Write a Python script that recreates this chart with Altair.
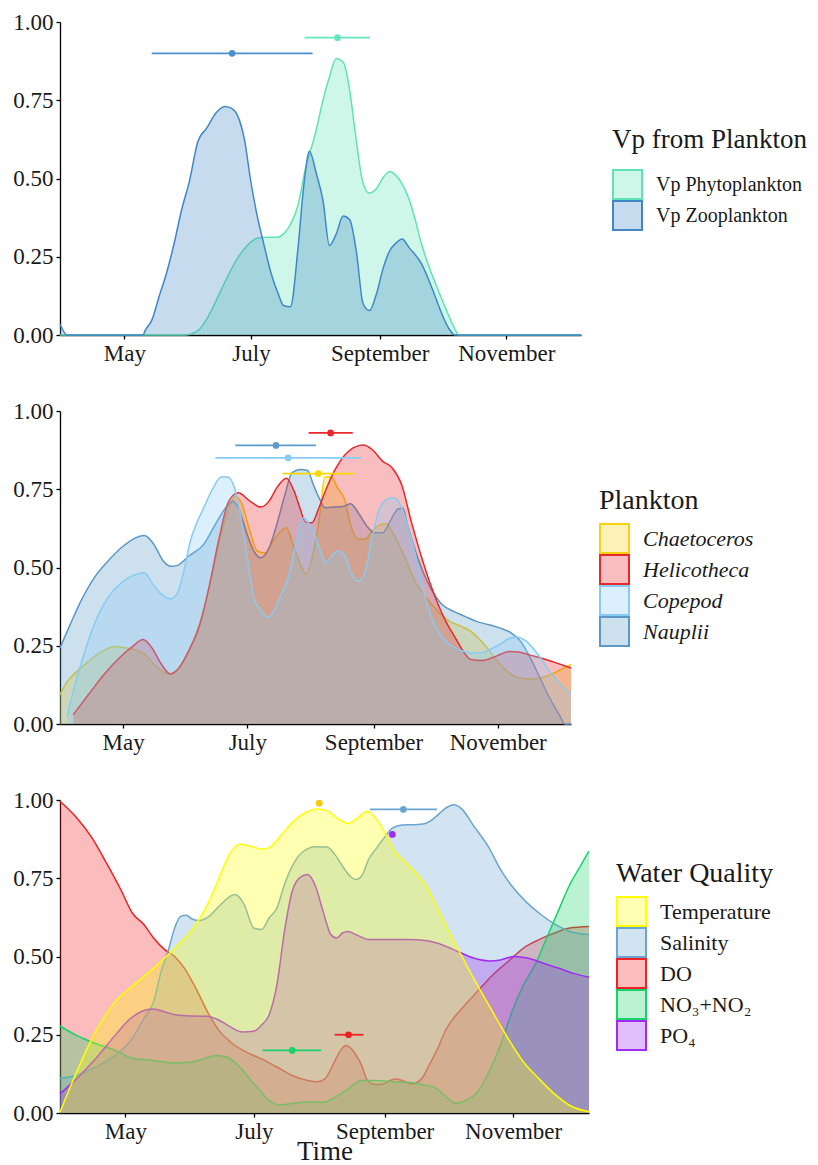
import altair as alt
import pandas as pd

FONT = "Liberation Serif"
BASE = pd.Timestamp("2019-03-31")   # day offsets below are days after 31 March
X_START = alt.DateTime(year=2019, month=3, date=31)
X_END = alt.DateTime(year=2019, month=12, date=7)
MONTH_TICKS = [alt.DateTime(year=2019, month=m, date=1) for m in (5, 7, 9, 11)]
Y_TICKS = [0, 0.25, 0.5, 0.75, 1.0]
FILL_ALPHA = 0.3

# ---------------- Panel 1: Vp from Plankton ----------------
p1_names = ["Vp Phytoplankton", "Vp Zooplankton"]
p1_colors = ["#5fe3b5", "#4187c8"]
p1_draw = ["Vp Phytoplankton", "Vp Zooplankton"]

phyto_day = [0, 60, 66.5, 70.6, 75.2, 79.8, 85.3, 90.8, 95.4, 100, 104.6, 107.7, 111, 114.4, 118.4, 123,
             126.7, 129.8, 133.1, 136.4, 139.6, 142.3, 146, 149.1, 152.4, 155.8, 158.9, 161.8, 164.8,
             168.1, 170.8, 174.2, 177.3, 181, 185.6, 190.2, 192, 251]
phyto_val = [0, 0, 0.014, 0.05, 0.11, 0.174, 0.243, 0.29, 0.31, 0.312, 0.312, 0.323, 0.353, 0.408, 0.536,
             0.643, 0.75, 0.824, 0.883, 0.872, 0.78, 0.643, 0.485, 0.453, 0.467, 0.504, 0.522, 0.51, 0.483,
             0.435, 0.376, 0.29, 0.227, 0.163, 0.088, 0.02, 0, 0]
zoo_day = [0, 3.4, 40, 41, 44.4, 47.6, 51.2, 54.9, 58.6, 62.3, 66.5, 70.6, 75.2, 79.4, 82.5, 85.6, 89, 91.7,
           94.8, 98.2, 101.8, 105.2, 107.7, 111, 114.7, 117.5, 120.2, 123.5, 126.7, 129.8, 133.1, 136.4,
           139.6, 142.9, 146, 149.1, 152.4, 155.8, 158.9, 161.8, 164.8, 168.1, 174.2, 179.1, 184.3, 187.4,
           190.2, 251]
zoo_val = [0.035, 0, 0, 0.014, 0.05, 0.12, 0.195, 0.29, 0.40, 0.49, 0.62, 0.66, 0.71, 0.73, 0.725, 0.70,
           0.62, 0.50, 0.387, 0.29, 0.195, 0.13, 0.094, 0.09, 0.28, 0.48, 0.587, 0.515, 0.43, 0.286, 0.323,
           0.38, 0.368, 0.26, 0.10, 0.078, 0.13, 0.216, 0.27, 0.293, 0.307, 0.28, 0.227, 0.152, 0.062, 0.02,
           0, 0]

p1_err_names = ["Vp Phytoplankton", "Vp Zooplankton"]
p1_err_colors = ["#66e6bb", "#4a8fd0"]
p1_err_mid = [133.7, 82.9]
p1_err_lo = [117.8, 44.2]
p1_err_hi = [149.3, 121.7]
p1_err_y = [0.95, 0.90]

# ---------------- Panel 2: Plankton ----------------
p2_names = ["Chaetoceros", "Helicotheca", "Copepod", "Nauplii"]
p2_colors = ["#f5d10f", "#e8282c", "#87cbf4", "#5b98c6"]
p2_draw = ["Chaetoceros", "Nauplii", "Helicotheca", "Copepod"]

chaet_day = [0, 3.6, 8.4, 14, 20.6, 27.2, 32.9, 41.4, 48, 53.6, 58.4, 63.1, 67.8, 72.5, 77.2, 82, 86.1,
             89.1, 93.3, 97, 100.8, 104.6, 108, 111.2, 114.4, 117.8, 120.8, 123.8, 127.2, 130.1, 133.3,
             136.3, 140.1, 142.7, 146.5, 149.9, 153.3, 157.4, 160.3, 164, 168.7, 174.4, 180, 185.7, 191.4,
             197, 201.8, 208.4, 215, 219.7, 225.4, 232, 238.6, 246.1, 251]
chaet_val = [0.094, 0.136, 0.168, 0.20, 0.232, 0.248, 0.243, 0.224, 0.179, 0.16, 0.179, 0.232, 0.307,
             0.414, 0.552, 0.67, 0.728, 0.707, 0.616, 0.552, 0.547, 0.584, 0.613, 0.627, 0.574, 0.515,
             0.478, 0.531, 0.648, 0.789, 0.789, 0.755, 0.712, 0.637, 0.59, 0.59, 0.616, 0.637, 0.64, 0.605,
             0.542, 0.456, 0.403, 0.36, 0.328, 0.312, 0.296, 0.254, 0.20, 0.168, 0.147, 0.144, 0.152,
             0.174, 0.19]
helic_day = [6.5, 14, 21.6, 29.1, 35.7, 40.8, 45.2, 49.9, 54.2, 58.4, 63.1, 68.7, 73.5, 78.2, 82.9, 87.6,
             93.3, 98.6, 102.7, 106.5, 111.2, 115, 117.8, 120.6, 123.8, 127.2, 131, 134.7, 139.5, 144.2,
             148.9, 153.3, 158.4, 163.1, 167.8, 172.5, 178.2, 183.8, 189.5, 194.2, 197, 201.8, 207.4, 214,
             220.6, 225.4, 231, 238.6, 251]
helic_val = [0.03, 0.094, 0.158, 0.211, 0.248, 0.27, 0.243, 0.19, 0.16, 0.179, 0.232, 0.318, 0.446, 0.595,
             0.712, 0.739, 0.712, 0.693, 0.712, 0.755, 0.785, 0.744, 0.691, 0.645, 0.643, 0.691, 0.755,
             0.808, 0.856, 0.883, 0.891, 0.877, 0.84, 0.819, 0.765, 0.648, 0.52, 0.414, 0.328, 0.275,
             0.243, 0.206, 0.203, 0.216, 0.232, 0.23, 0.22, 0.206, 0.179]
cope_day = [3.6, 6.5, 11.2, 16.8, 23.5, 30.1, 35.7, 41.4, 45.7, 49.9, 54.2, 57.4, 60.8, 64, 66.9, 70.6,
            75.3, 79.1, 82.3, 85.7, 88.6, 92.3, 95.2, 98.9, 101.8, 105, 108.7, 112.1, 115.9, 119.7, 122.5,
            125.4, 128.2, 130.6, 133.3, 136.7, 140.1, 142.7, 146.5, 149.9, 153.3, 156.5, 160.3, 164, 167.8,
            171.6, 175.4, 178.2, 182, 186.7, 191.4, 197, 201.8, 206.5, 211.2, 215.9, 220.6, 224.4, 229.1,
            234.8, 240.5, 246.1, 251]
cope_val = [0.025, 0.104, 0.211, 0.318, 0.403, 0.451, 0.474, 0.483, 0.446, 0.414, 0.40, 0.414, 0.488,
            0.584, 0.638, 0.691, 0.755, 0.789, 0.789, 0.755, 0.67, 0.52, 0.403, 0.362, 0.341, 0.36, 0.414,
            0.467, 0.574, 0.659, 0.638, 0.60, 0.547, 0.515, 0.536, 0.552, 0.536, 0.488, 0.456, 0.488,
            0.595, 0.68, 0.717, 0.723, 0.691, 0.616, 0.52, 0.435, 0.35, 0.286, 0.254, 0.235, 0.227, 0.227,
            0.238, 0.254, 0.273, 0.278, 0.264, 0.222, 0.168, 0.126, 0.094]
naup_day = [0, 4.6, 10.2, 16.8, 23.5, 30.1, 35.7, 41.4, 46.1, 50.8, 54.6, 57.4, 63.1, 70.6, 76.3, 82, 84.8,
            87.6, 91.4, 95.2, 98.6, 102.7, 106.5, 110.3, 114, 118.2, 121.6, 124.4, 127.2, 130.1, 134.7,
            139.5, 142.7, 147, 150.8, 154.6, 158.4, 162.2, 165.9, 168.4, 170.6, 176.3, 182, 187.7, 193.3,
            198.9, 204.6, 210.2, 215.9, 221.6, 226.3, 231, 235.8, 240.5, 245.2, 248, 251]
naup_val = [0.243, 0.312, 0.392, 0.467, 0.52, 0.563, 0.59, 0.602, 0.574, 0.52, 0.504, 0.506, 0.536, 0.574,
            0.638, 0.696, 0.712, 0.691, 0.616, 0.552, 0.531, 0.563, 0.638, 0.728, 0.803, 0.813, 0.81,
            0.765, 0.723, 0.691, 0.693, 0.696, 0.704, 0.67, 0.632, 0.611, 0.611, 0.648, 0.686, 0.689,
            0.638, 0.52, 0.435, 0.382, 0.36, 0.344, 0.328, 0.318, 0.307, 0.291, 0.264, 0.211, 0.147,
            0.083, 0.03, 0, 0]

p2_err_names = ["Chaetoceros", "Helicotheca", "Copepod", "Nauplii"]
p2_err_colors = ["#f9d800", "#e8282c", "#88ccf6", "#5b9cc8"]
p2_err_mid = [126.9, 132.9, 112.1, 106.1]
p2_err_lo = [109.3, 122.1, 76.3, 86.1]
p2_err_hi = [144.6, 143.8, 148.0, 125.7]
p2_err_y = [0.80, 0.93, 0.85, 0.89]

# ---------------- Panel 3: Water Quality ----------------
p3_names = ["Temperature", "Salinity", "DO", "NO\u2083+NO\u2082", "PO\u2084"]
p3_colors = ["#ffff00", "#6aa5d2", "#ee2222", "#19d36a", "#a02cf2"]
p3_draw = ["DO", "Salinity", "NO\u2083+NO\u2082", "PO\u2084", "Temperature"]

temp_day = [0, 7.8, 16.9, 26.1, 35.2, 44.4, 53.5, 62.6, 70, 75.4, 80.9, 85.5, 90.1, 95.6, 99.2, 104.7,
            111.1, 116.6, 122.1, 126.7, 132.1, 136.7, 140.4, 145.9, 149.5, 154.1, 158.7, 163.2, 168.7,
            174.2, 179.7, 185.2, 190.7, 198, 205.3, 212.6, 219.9, 227.3, 234.6, 241.9, 251]
temp_val = [0.002, 0.13, 0.26, 0.355, 0.41, 0.463, 0.52, 0.586, 0.666, 0.75, 0.832, 0.859, 0.853, 0.843,
            0.848, 0.886, 0.934, 0.96, 0.971, 0.966, 0.939, 0.925, 0.939, 0.963, 0.944, 0.896, 0.837, 0.805,
            0.768, 0.72, 0.645, 0.57, 0.50, 0.409, 0.323, 0.238, 0.163, 0.109, 0.061, 0.024, 0.004]
sal_day = [0, 7.8, 16.9, 26.1, 34.3, 39.8, 44.4, 48, 51.7, 54.4, 57.2, 59.9, 62.6, 66.3, 70, 75.4, 80.9,
           83.1, 87.4, 91.9, 95.6, 99.2, 102.9, 106.5, 111.1, 115.7, 121.2, 126.7, 130.3, 134, 137.6,
           140.4, 143.1, 146.4, 150.4, 154.1, 157.7, 162.3, 167.8, 172.4, 176, 179.7, 183.4, 187, 190.7,
           196.2, 203.5, 209, 214.4, 220.8, 227.3, 234.6, 241.9, 251]
sal_val = [0.111, 0.12, 0.147, 0.184, 0.238, 0.302, 0.355, 0.452, 0.527, 0.591, 0.628, 0.632, 0.62, 0.615,
           0.625, 0.66, 0.693, 0.698, 0.666, 0.591, 0.586, 0.623, 0.655, 0.73, 0.80, 0.837, 0.851, 0.85,
           0.827, 0.789, 0.757, 0.746, 0.757, 0.81, 0.848, 0.882, 0.91, 0.92, 0.921, 0.923, 0.934, 0.955,
           0.976, 0.985, 0.971, 0.918, 0.848, 0.778, 0.725, 0.677, 0.639, 0.604, 0.58, 0.57]
do_day = [0, 7.8, 15.1, 22.4, 28.8, 34.3, 39.8, 44.4, 49.8, 54.4, 59, 64.5, 70, 75.4, 80.9, 88.2, 95.6,
          102.9, 110.2, 117.5, 122.1, 125.7, 129.4, 133.1, 135.8, 139.5, 143.1, 145.9, 149.5, 153.2, 158.7,
          162.3, 166.9, 171.5, 175.1, 178.8, 183.4, 190.7, 198, 205.3, 212.6, 219.9, 227.3, 234.6, 241.9,
          251]
do_val = [0.996, 0.944, 0.88, 0.794, 0.714, 0.639, 0.602, 0.559, 0.521, 0.50, 0.463, 0.398, 0.323, 0.264,
          0.227, 0.195, 0.173, 0.147, 0.12, 0.104, 0.10, 0.109, 0.152, 0.20, 0.216, 0.195, 0.152, 0.104,
          0.091, 0.093, 0.109, 0.104, 0.093, 0.109, 0.152, 0.20, 0.27, 0.334, 0.388, 0.441, 0.484, 0.527,
          0.554, 0.575, 0.591, 0.596]
no3_day = [0, 7.8, 16.9, 26.1, 35.2, 44.4, 53.5, 62.6, 68.1, 74.5, 79.1, 84.6, 90.1, 95.6, 99.2, 104.7,
           112, 119.3, 124.8, 130.3, 135.8, 143.1, 150.4, 157.7, 165, 172.4, 177.9, 183.4, 188, 192.5, 198,
           203.5, 209, 214.4, 219.9, 225.4, 230.9, 236.4, 241.9, 246.5, 251]
no3_val = [0.278, 0.248, 0.222, 0.20, 0.173, 0.168, 0.16, 0.163, 0.173, 0.184, 0.179, 0.152, 0.109, 0.066,
           0.04, 0.026, 0.032, 0.036, 0.034, 0.05, 0.072, 0.104, 0.104, 0.10, 0.098, 0.09, 0.082, 0.05,
           0.031, 0.04, 0.066, 0.131, 0.216, 0.323, 0.409, 0.473, 0.559, 0.645, 0.73, 0.784, 0.837]
po4_day = [0, 7.8, 16.9, 26.1, 33.4, 38.9, 44.4, 49.8, 55.3, 62.6, 70, 75.4, 80.9, 86.4, 91.9, 95.6, 99.2,
           102.9, 106.5, 110.2, 113.8, 117.5, 121.2, 124.8, 128.5, 131.2, 134, 136.7, 140.4, 146.8, 154.1,
           165, 174.2, 181.5, 188.8, 196.2, 203.5, 209, 215.4, 221.8, 229.1, 236.4, 243.7, 251]
po4_val = [0.061, 0.109, 0.173, 0.248, 0.302, 0.325, 0.332, 0.323, 0.313, 0.31, 0.309, 0.297, 0.275,
           0.259, 0.261, 0.281, 0.313, 0.409, 0.58, 0.709, 0.752, 0.762, 0.725, 0.645, 0.57, 0.559, 0.575,
           0.58, 0.57, 0.554, 0.554, 0.554, 0.55, 0.537, 0.516, 0.495, 0.486, 0.489, 0.50, 0.495, 0.479,
           0.463, 0.446, 0.434]

p3_err_names = ["Temperature", "Salinity", "DO", "NO\u2083+NO\u2082", "PO\u2084"]
p3_err_colors = ["#f8c800", "#6aa5d2", "#ee2222", "#19d36a", "#a02cf2"]
p3_err_mid = [123.0, 162.9, 136.9, 110.2, 157.7]
p3_err_lo = [123.0, 147.1, 130.3, 96.1, 157.7]
p3_err_hi = [123.0, 178.8, 144.0, 123.9, 157.7]
p3_err_y = [0.99, 0.97, 0.25, 0.20, 0.89]


def to_date(d):
    return BASE + pd.Timedelta(days=d)


def translucent(hex_color, alpha=FILL_ALPHA):
    r, g, b = int(hex_color[1:3], 16), int(hex_color[3:5], 16), int(hex_color[5:7], 16)
    return f"rgba({r},{g},{b},{alpha})"


def series_frame(names, days_list, vals_list):
    rows = []
    for n, ds, vs in zip(names, days_list, vals_list):
        assert len(ds) == len(vs), n
        for d, v in zip(ds, vs):
            rows.append({"series": n, "date": to_date(d), "value": v})
    return pd.DataFrame(rows)


def err_frame(names, mid, lo, hi, yv):
    return pd.DataFrame({
        "name": names,
        "mid": [to_date(d) for d in mid],
        "lo": [to_date(d) for d in lo],
        "hi": [to_date(d) for d in hi],
        "y": yv,
    })


def panel(df, err, names, colors, draw, err_names, err_colors, width, title,
          lx, ly, italic, xtitle, label_size, title_size, title_pad):
    xscale = alt.Scale(domain=[X_START, X_END])
    if xtitle:
        xaxis = alt.Axis(values=MONTH_TICKS, format="%B", title=xtitle,
                         titleBaseline="alphabetic", titleY=46)
    else:
        xaxis = alt.Axis(values=MONTH_TICKS, format="%B", title=None)
    yscale = alt.Scale(domain=[0, 1], nice=False)
    yaxis = alt.Axis(values=Y_TICKS, format=".2f", title=None)
    leg = alt.Legend(title=title, orient="none", legendX=lx, legendY=ly,
                     labelFontSize=label_size, titleFontSize=title_size, titlePadding=title_pad,
                     labelFontStyle="italic" if italic else "normal")
    fill = alt.Fill("series:N", scale=alt.Scale(domain=names, range=[translucent(c) for c in colors]),
                    legend=leg)
    stroke = alt.Stroke("series:N", scale=alt.Scale(domain=names, range=colors), legend=leg)
    layers = []
    for n in draw:
        base = alt.Chart(df).transform_filter(alt.datum.series == n)
        layers.append(base.mark_area(interpolate="monotone").encode(
            x=alt.X("date:T", scale=xscale, axis=xaxis),
            y=alt.Y("value:Q", scale=yscale, axis=yaxis),
            fill=fill))
        layers.append(base.mark_line(strokeWidth=1.5, interpolate="monotone").encode(
            x=alt.X("date:T", scale=xscale, axis=xaxis),
            y=alt.Y("value:Q", scale=yscale, axis=yaxis),
            stroke=stroke))
    ecol = alt.Color("name:N", scale=alt.Scale(domain=err_names, range=err_colors), legend=None)
    bars = alt.Chart(err).mark_rule(strokeWidth=1.8).encode(
        x=alt.X("lo:T", scale=xscale, axis=xaxis), x2="hi:T",
        y=alt.Y("y:Q", scale=yscale, axis=yaxis), color=ecol)
    pts = alt.Chart(err).mark_circle(size=45, opacity=1).encode(
        x=alt.X("mid:T", scale=xscale, axis=xaxis),
        y=alt.Y("y:Q", scale=yscale, axis=yaxis), color=ecol)
    return alt.layer(*layers, bars, pts).properties(width=width, height=313)


df1 = series_frame(["Vp Phytoplankton", "Vp Zooplankton"], [phyto_day, zoo_day], [phyto_val, zoo_val])
df2 = series_frame(p2_names, [chaet_day, helic_day, cope_day, naup_day],
                   [chaet_val, helic_val, cope_val, naup_val])
df3 = series_frame(p3_names, [temp_day, sal_day, do_day, no3_day, po4_day],
                   [temp_val, sal_val, do_val, no3_val, po4_val])
e1 = err_frame(p1_err_names, p1_err_mid, p1_err_lo, p1_err_hi, p1_err_y)
e2 = err_frame(p2_err_names, p2_err_mid, p2_err_lo, p2_err_hi, p2_err_y)
e3 = err_frame(p3_err_names, p3_err_mid, p3_err_lo, p3_err_hi, p3_err_y)

c1 = panel(df1, e1, p1_names, p1_colors, p1_draw, p1_err_names, p1_err_colors, 521,
           "Vp from Plankton", 552, 105, False, None, 20, 27, 15)
c2 = panel(df2, e2, p2_names, p2_colors, p2_draw, p2_err_names, p2_err_colors, 511,
           "Plankton", 539, 76, True, None, 22, 28, 8)
c3 = panel(df3, e3, p3_names, p3_colors, p3_draw, p3_err_names, p3_err_colors, 529,
           "Water Quality", 556, 60, False, "Time", 22, 28, 8)

chart = alt.vconcat(c1, c2, c3, spacing=35).resolve_scale(
    fill="independent", stroke="independent", color="independent"
).properties(
    padding={"left": 4, "top": 3, "right": 0, "bottom": 0}
).configure_view(stroke=None).configure_axis(
    labelFont=FONT, labelFontSize=23, labelColor="#1a1a1a",
    titleFont=FONT, titleFontSize=27, titleFontWeight="normal", titleColor="#1a1a1a",
    domainColor="#000000", domainWidth=1.3, tickColor="#000000", tickWidth=1.3, tickSize=4,
    labelPadding=3, grid=False, zindex=1,
).configure_legend(
    titleFont=FONT, titleFontWeight="normal", titleColor="#1a1a1a",
    titleLimit=500, labelLimit=500,
    labelFont=FONT, labelColor="#1a1a1a", labelOffset=13,
    symbolType="square", symbolSize=841, symbolStrokeWidth=2, rowPadding=0, clipHeight=31,
)

chart.save("out.html", embed_options={"renderer": "svg", "actions": False})
